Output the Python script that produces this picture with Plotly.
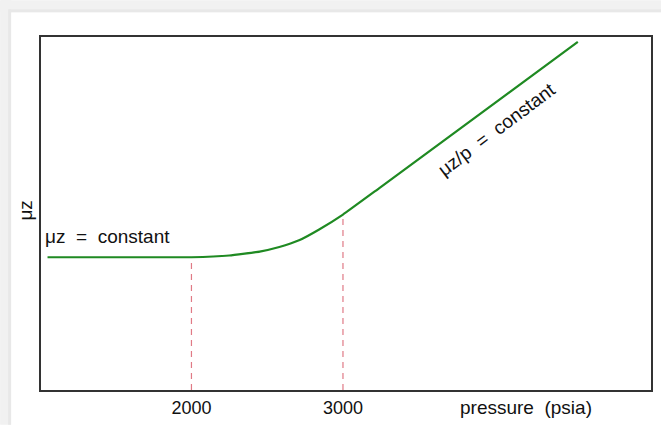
import plotly.graph_objects as go

# ---- data ----
pressure = [1050, 2000, 2250, 2450, 2580, 2710, 2840, 3000, 3240, 4550]
mu_z = [0.376, 0.376, 0.381, 0.392, 0.405, 0.424, 0.454, 0.497, 0.572, 0.986]
marker_p = [2000, 3000]
marker_mu = [0.376, 0.497]
tick_vals = [2000, 3000]
tick_text = ["2000", "3000"]
x_range = [1007, 5033]
y_range = [0, 1]

W, H = 663, 428
L, R, T, B = 41, 10, 37, 35
pw, ph = W - L - R, H - T - B

def px2paper_x(px):
    return (px - L) / pw

def px2paper_y(py):
    return (H - B - py) / ph

fig = go.Figure()

# dashed vertical guide lines
for p, m in zip(marker_p, marker_mu):
    fig.add_trace(go.Scatter(x=[p, p], y=[y_range[0], m], mode="lines",
                             line=dict(color="#e07a86", width=1.2, dash="6px,5px"),
                             hoverinfo="skip", showlegend=False))

fig.add_trace(go.Scatter(x=pressure, y=mu_z, mode="lines",
                         line=dict(color="#1f8a22", width=2.2, shape="spline", smoothing=0.3),
                         showlegend=False))

NB = "\u00a0"
font = dict(family="Liberation Sans, Arial, sans-serif", size=19, color="#111111")
tfont = dict(family="Liberation Sans, Arial, sans-serif", size=18, color="#111111")

annotations = [
    dict(text=f"μz{NB}{NB}={NB}{NB}constant", xref="paper", yref="paper",
         x=px2paper_x(43), y=px2paper_y(238), xanchor="left", yanchor="middle",
         showarrow=False, font=font),
    dict(text=f"μz/p{NB}{NB}={NB}{NB}constant", xref="paper", yref="paper",
         x=px2paper_x(498), y=px2paper_y(130), xanchor="center", yanchor="middle",
         textangle=-37, showarrow=False, font=font),
    dict(text="μz", xref="paper", yref="paper",
         x=px2paper_x(25), y=px2paper_y(212), xanchor="center", yanchor="middle",
         textangle=-90, showarrow=False, font=font),
    dict(text=f"pressure{NB}{NB}(psia)", xref="paper", yref="paper",
         x=px2paper_x(528), y=px2paper_y(411), xanchor="center", yanchor="middle",
         showarrow=False, font=font),
]

# light grey page strips (top and left)
shapes = [
    dict(type="rect", xref="paper", yref="paper", layer="below",
         x0=px2paper_x(0), x1=px2paper_x(W), y0=px2paper_y(12), y1=px2paper_y(0),
         fillcolor="#f1f1f1", line=dict(width=0)),
    dict(type="rect", xref="paper", yref="paper", layer="below",
         x0=px2paper_x(0), x1=px2paper_x(11), y0=px2paper_y(H), y1=px2paper_y(0),
         fillcolor="#f1f1f1", line=dict(width=0)),
    dict(type="rect", xref="paper", yref="paper", layer="below",
         x0=px2paper_x(9), x1=px2paper_x(W), y0=px2paper_y(12), y1=px2paper_y(9),
         fillcolor="#e8e8e8", line=dict(width=0)),
    dict(type="rect", xref="paper", yref="paper", layer="below",
         x0=px2paper_x(8), x1=px2paper_x(11), y0=px2paper_y(H), y1=px2paper_y(9),
         fillcolor="#e8e8e8", line=dict(width=0)),
]

fig.update_layout(
    width=W, height=H,
    margin=dict(l=L, r=R, t=T, b=B),
    paper_bgcolor="white", plot_bgcolor="white",
    annotations=annotations, shapes=shapes,
    xaxis=dict(range=x_range, showgrid=False, zeroline=False,
               showline=True, mirror=True, linecolor="#333333", linewidth=2,
               tickvals=tick_vals, ticktext=tick_text, ticks="",
               tickfont=tfont, ticklabelstandoff=0),
    yaxis=dict(range=y_range, showgrid=False, zeroline=False,
               showline=True, mirror=True, linecolor="#333333", linewidth=2,
               showticklabels=False, ticks=""),
)

fig.write_html("out.html", config={"displayModeBar": False},
               post_script="document.body.style.margin='0';")
